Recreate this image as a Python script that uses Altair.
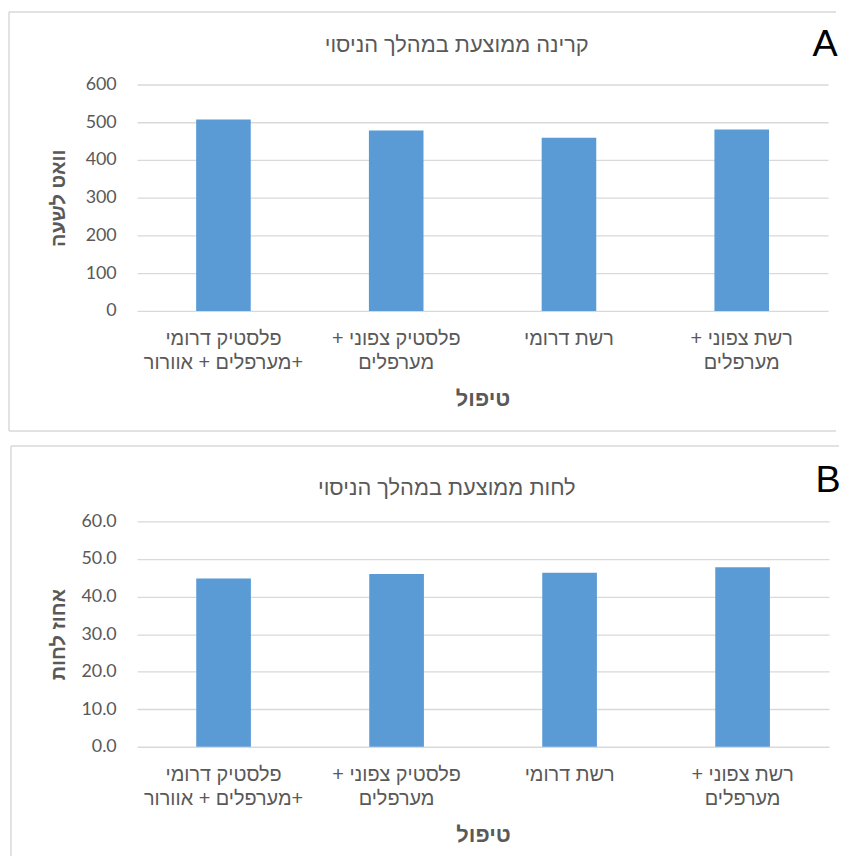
import altair as alt
import pandas as pd

RLM = "\u200f"

# category labels (left to right as drawn); "|" marks a line break
categories = [
    "פלסטיק דרומי|+מערפלים + אוורור",
    "פלסטיק צפוני +|מערפלים",
    "רשת דרומי",
    "רשת צפוני +|מערפלים",
]
radiation = [507, 478, 459, 481]
humidity = [44.8, 46.0, 46.3, 47.8]

title_a = "קרינה ממוצעת במהלך הניסוי"
title_b = "לחות ממוצעת במהלך הניסוי"
ytitle_a = "וואט לשעה"
ytitle_b = "אחוז לחות"
xtitle = "טיפול"

cat_labels = ["|".join(RLM + part + RLM for part in c.split("|")) for c in categories]

HEB = "Liberation Sans"
NUM = "Lato"
GRAY = "#595959"
BORDER = "#d9d9d9"
BAR = "#5b9bd5"


def one(text):
    return alt.Chart(pd.DataFrame({"t": [text]}))


def panel(values, title, letter, ytitle, ymax, yvals, yfmt, w, h,
          left, right, top, bottom, title_x, title_y, letter_x, letter_y):
    df = pd.DataFrame({"cat": cat_labels, "v": values})
    bars = alt.Chart(df).mark_bar(color=BAR).encode(
        x=alt.X("cat:N", sort=cat_labels,
                scale=alt.Scale(paddingInner=0.684, paddingOuter=0.342),
                axis=alt.Axis(title=xtitle, titleFont=HEB, titleFontSize=22,
                              titleFontWeight="bold", titleColor=GRAY,
                              titleY=88, titleBaseline="middle",
                              labelExpr="split(datum.label, '|')",
                              labelFont=HEB, labelFontSize=20, labelColor=GRAY,
                              labelAngle=0, labelBaseline="top", labelLineHeight=24,
                              labelPadding=18, ticks=False, domain=False, grid=False)),
        y=alt.Y("v:Q", scale=alt.Scale(domain=[0, ymax], nice=False),
                axis=alt.Axis(title=ytitle, titleFont=HEB, titleFontSize=20,
                              titleFontWeight="bold", titleColor=GRAY,
                              titleX=-79, titleY=h / 2, titleAlign="center",
                              titleBaseline="middle",
                              values=yvals, format=yfmt,
                              labelFont=NUM, labelFontSize=18, labelColor=GRAY,
                              labelPadding=21, ticks=False, domain=False,
                              grid=True, gridColor=BORDER, gridWidth=1.3)),
    )
    layers = [bars]
    # panel frame
    layers.append(one("").mark_rule(color=BORDER, strokeWidth=1.5).encode(
        x=alt.value(left), x2=alt.value(right), y=alt.value(top)))
    layers.append(one("").mark_rule(color=BORDER, strokeWidth=1.5).encode(
        x=alt.value(left), y=alt.value(top), y2=alt.value(bottom)))
    if letter == "A":
        layers.append(one("").mark_rule(color=BORDER, strokeWidth=1.5).encode(
            x=alt.value(left), x2=alt.value(right), y=alt.value(bottom)))
    layers.append(one(title).mark_text(font=HEB, fontSize=22, color=GRAY,
                                       align="center", baseline="middle").encode(
        x=alt.value(title_x), y=alt.value(title_y), text="t:N"))
    layers.append(one(letter).mark_text(font=HEB, fontSize=38, color="#000000",
                                        align="center", baseline="middle").encode(
        x=alt.value(letter_x), y=alt.value(letter_y), text="t:N"))
    return alt.layer(*layers).properties(width=w, height=h)


pa = panel(radiation, title_a, "A", ytitle_a, 600, [0, 100, 200, 300, 400, 500, 600], "d",
           696, 228, -129, 704, -73, 349, 322, -40, 693, -40)
pb = panel(humidity, title_b, "B", ytitle_b, 60, [0, 10, 20, 30, 40, 50, 60], ".1f",
           697, 227, -127, 707, -76, 337, 312, -34, 696, -41)

chart = alt.vconcat(pa, pb, spacing=13).properties(
    padding=0, background="white"
).configure_view(stroke=None)

chart.save("out.html", embed_options={"renderer": "svg", "actions": False})
